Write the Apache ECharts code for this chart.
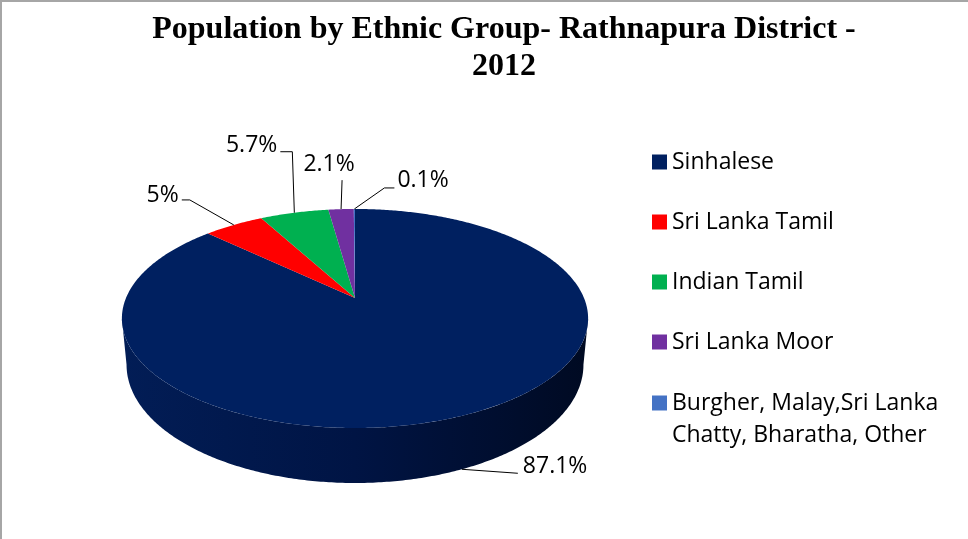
<!DOCTYPE html>
<html>
<head>
<meta charset="utf-8">
<script src="https://cdn.jsdelivr.net/npm/echarts@6/dist/echarts.min.js"></script>
<style>
  html, body { margin: 0; padding: 0; background: #fff; }
  #chart { width: 968px; height: 539px; }
</style>
</head>
<body>
<div id="chart"></div>
<script>
// population share by ethnic group (%)
var groups = ['Sinhalese', 'Sri Lanka Tamil', 'Indian Tamil', 'Sri Lanka Moor', 'Burgher, Malay,Sri Lanka Chatty, Bharatha, Other'];
var shares = [87.1, 5, 5.7, 2.1, 0.1];
var colors = ['#002060', '#ff0000', '#00b050', '#7030a0', '#4472c4'];

// tilted disc (excel style 3d pie): centre, radius, squash, perspective, thickness
var cx = 355, cy = 298, R = 229, S = 105.7, K = 0.187, T = 44.7, RB = 0.98;

var total = shares.reduce(function (s, v) { return s + v; }, 0);
var starts = [];
var acc = 0;
shares.forEach(function (v) { starts.push(acc / total); acc += v; });

// label leader lines, offsets from the slice edge point
var leaders = [
  { pts: [[56, 4]], txt: [61, -3], align: 'left', bottom: true },
  { pts: [[-44, -25], [-52, -25]], txt: [-55, -29], align: 'right' },
  { pts: [[-2, -61], [-14, -61]], txt: [-17, -67], align: 'right' },
  { pts: [[1, -29]], txt: [-12, -45], align: 'center' },
  { pts: [[30, -21], [40, -21]], txt: [43, -28], align: 'left' }
];

function proj(a, h) {
  var u = Math.sin(a), v = Math.cos(a), w = 1 + K * v;
  var r = h ? R * RB : R;
  return [cx + r * u / w, cy + (-S * v + T * h) / w];
}
function arc(a0, a1, h) {
  var pts = [];
  var n = Math.max(2, Math.ceil((a1 - a0) / 0.01));
  for (var i = 0; i <= n; i++) pts.push(proj(a0 + (a1 - a0) * i / n, h));
  return pts;
}

function renderSlice(params, api) {
  var i = params.seriesIndex;
  var a0 = starts[i] * 2 * Math.PI;
  var a1 = (starts[i] + api.value(0) / total) * 2 * Math.PI;
  var kids = [];
  // front wall, only the part facing us
  var lo = Math.acos(-K), hi = 2 * Math.PI - lo;
  var w0 = Math.max(a0, lo), w1 = Math.min(a1, hi);
  if (w1 > w0) {
    var wall = arc(w0, w1, 0).concat(arc(w0, w1, 1).reverse());
    kids.push({
      type: 'polygon',
      shape: { points: wall },
      style: {
        fill: new echarts.graphic.LinearGradient(0, 0, 1, 0, [
          { offset: 0, color: '#021d56' },
          { offset: 0.5, color: '#001444' },
          { offset: 1, color: '#000a22' }
        ])
      }
    });
  }
  kids.push({
    type: 'polygon',
    shape: { points: [[cx, cy]].concat(arc(a0, a1, 0)) },
    style: { fill: colors[i] }
  });
  // leader + percent label
  var L = leaders[i];
  var am = (a0 + a1) / 2;
  var p = proj(am, L.bottom ? 1 : 0);
  var line = [p].concat(L.pts.map(function (d) { return [p[0] + d[0], p[1] + d[1]]; }));
  kids.push({
    type: 'polyline',
    shape: { points: line },
    style: { stroke: '#000', lineWidth: 1, fill: null }
  });
  kids.push({
    type: 'text',
    style: {
      text: api.value(0) + '%',
      x: p[0] + L.txt[0],
      y: p[1] + L.txt[1],
      align: L.align,
      verticalAlign: 'middle',
      font: '23px "Open Sans"',
      fill: '#000'
    }
  });
  return { type: 'group', children: kids };
}

var chart = echarts.init(document.getElementById('chart'));
var legendText = { fontFamily: 'Open Sans', fontSize: 23, color: '#000' };

chart.setOption({
  animation: false,
  color: colors,
  title: {
    text: 'Population by Ethnic Group- Rathnapura District -\n2012',
    left: 504,
    top: 11,
    textAlign: 'center',
    padding: 0,
    textStyle: { fontFamily: 'Liberation Serif', fontWeight: 'bold', fontSize: 32, lineHeight: 37, color: '#000' }
  },
  legend: [
    {
      data: groups.slice(0, 4),
      orient: 'vertical',
      left: 652,
      top: 147,
      padding: 0,
      itemWidth: 15,
      itemHeight: 15,
      itemGap: 30,
      icon: 'rect',
      selectedMode: false,
      textStyle: Object.assign({ lineHeight: 30 }, legendText)
    },
    {
      // two-line name; a blank first line keeps the square level with line one
      data: groups.slice(4),
      orient: 'vertical',
      left: 652,
      top: 355,
      padding: 0,
      itemWidth: 15,
      itemHeight: 15,
      icon: 'rect',
      selectedMode: false,
      formatter: function (n) { return ' \n' + n.replace('Lanka ', 'Lanka\n'); },
      textStyle: Object.assign({ lineHeight: 32 }, legendText)
    }
  ],
  graphic: [{
    type: 'rect',
    shape: { x: 1, y: 1, width: 1000, height: 600 },
    style: { fill: null, stroke: '#a6a6a6', lineWidth: 2 },
    silent: true
  }],
  series: groups.map(function (g, i) {
    return {
      type: 'custom',
      name: g,
      coordinateSystem: 'none',
      silent: true,
      itemStyle: { color: colors[i] },
      renderItem: renderSlice,
      data: [[shares[i]]]
    };
  })
});
</script>
</body>
</html>
